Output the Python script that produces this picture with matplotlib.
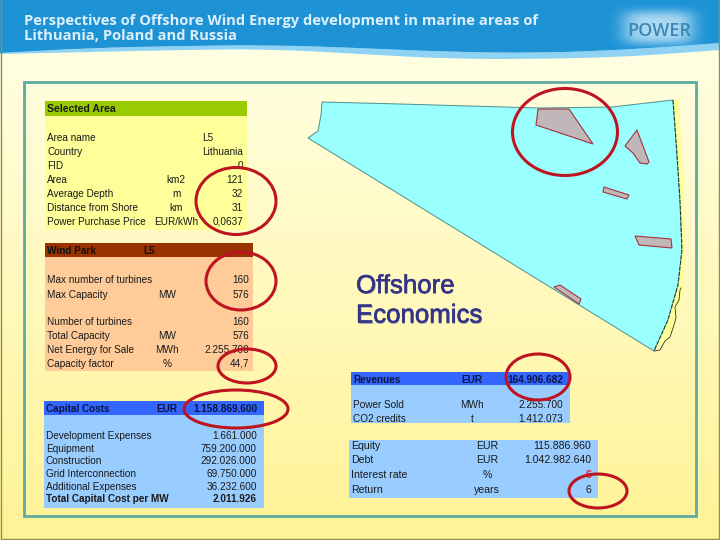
import numpy as np
import matplotlib
matplotlib.use('Agg')
import matplotlib.pyplot as plt
from matplotlib.patches import Rectangle, Ellipse, Polygon, PathPatch
from matplotlib.path import Path
import matplotlib.patheffects as pe

TITLE = ["Perspectives of Offshore Wind Energy development in marine areas of",
         "Lithuania, Poland and Russia"]
MAP_LABEL = ["Offshore", "Economics"]

selected_header = "Selected Area"
selected_top = [("Area name", "L5"), ("Country", "Lithuania")]
selected_rows = [("FID", "", "0"),
                 ("Area", "km2", "121"), ("Average Depth", "m", "32"),
                 ("Distance from Shore", "km", "31"),
                 ("Power Purchase Price", "EUR/kWh", "0,0637")]
selected_top_y = [137, 151]
selected_y = [165, 179, 193, 207, 221]

park_header = ["Wind Park", "L5"]
park_rows = [("Max number of turbines", "", "160"), ("Max Capacity", "MW", "576"),
             ("Number of turbines", "", "160"), ("Total Capacity", "MW", "576"),
             ("Net Energy for Sale", "MWh", "2.255.700"), ("Capacity factor", "%", "44,7")]
park_y = [279, 294, 321, 335, 349, 363]

capital_header = ["Capital Costs", "EUR", "1.158.869.600"]
capital_rows = [("Development Expenses", "", "1.661.000"), ("Equipment", "", "759.200.000"),
                ("Construction", "", "292.026.000"), ("Grid Interconnection", "", "69.750.000"),
                ("Additional Expenses", "", "36.232.600")]
capital_y = [435, 448, 460, 473, 486]
capital_total = ("Total Capital Cost per MW", "2.011.926")

revenue_header = ["Revenues", "EUR", "164.906.682"]
revenue_rows = [("Power Sold", "MWh", "2.255.700"), ("CO2 credits", "t", "1.412.073")]
revenue_y = [404, 418]

finance_rows = [("Equity", "EUR", "115.886.960"), ("Debt", "EUR", "1.042.982.640"),
                ("Return", "years", "6")]
finance_y = [445, 459, 489]
interest_row = ("Interest rate", "%", "6")
interest_y = 474

sea_outline = [(322, 102), (400, 104), (470, 106), (540, 108), (612, 107), (673, 100),
               (676, 140), (680, 200), (682, 250), (678, 285), (668, 320), (654, 351),
               (308, 138), (318, 131), (321, 115)]
coast_strip = [(673, 100), (679, 98), (681, 140), (684, 200), (685, 250), (683, 290), (676, 318),
               (670, 335), (654, 351), (668, 320), (678, 285), (682, 250), (680, 200), (676, 140)]
zones = [[(538, 109), (569, 109), (593, 144), (536, 125)],
         [(637, 130), (649, 162), (647, 164), (640, 163), (633, 153), (625, 146)],
         [(604, 187), (629, 195), (627, 199), (603, 192)],
         [(635, 236), (671, 239), (672, 248), (639, 245)],
         [(554, 287), (560, 285), (581, 299), (579, 304)]]
coast_x = [654, 660, 665, 670, 673, 676, 675, 679, 680, 681]
coast_y = [351, 350, 341, 337, 328, 318, 307, 300, 290, 288]
rings = [(236, 201, 80, 67), (241, 281, 70, 58), (247, 366, 58, 34), (236, 409, 104, 38),
         (538, 377, 64, 46), (598, 491, 58, 34), (565, 132, 105, 87)]

wave_top = [(0, 53), (90, 48), (180, 46), (270, 45), (360, 48), (450, 52), (540, 53), (620, 50), (680, 46), (720, 43)]
wave_low = [(720, 50), (680, 53), (620, 57), (540, 59), (450, 59), (360, 54), (270, 49), (180, 50), (90, 52), (0, 54)]

TXT = ['Liberation Sans']
fig = plt.figure(figsize=(7.2, 5.4), dpi=100)
ax = fig.add_axes([0, 0, 1, 1])


def gradient(x0, x1, y0, y1, top, bottom, z):
    a = np.array(matplotlib.colors.to_rgb(top))
    b = np.array(matplotlib.colors.to_rgb(bottom))
    g = np.linspace(0, 1, 256)[:, None, None]
    ax.imshow(a * (1 - g) + b * g, extent=(x0, x1, y1, y0), aspect='auto', zorder=z, interpolation='bilinear')


def smooth(points):
    verts, codes = [points[0]], [Path.MOVETO]
    for i in range(1, len(points) - 1):
        mid = ((points[i][0] + points[i + 1][0]) / 2, (points[i][1] + points[i + 1][1]) / 2)
        verts += [points[i], mid]
        codes += [Path.CURVE3, Path.CURVE3]
    verts.append(points[-1])
    codes.append(Path.LINETO)
    return verts, codes


gradient(0, 720, 50, 540, '#FFFFE2', '#FFF396', 0)

# header
vr, cr = smooth(wave_top[::-1])
p = Path([(0, 0), (720, 0)] + vr + [(0, 0)], [Path.MOVETO, Path.LINETO, Path.LINETO] + cr[1:] + [Path.LINETO])
vb, cb = smooth(wave_low)
vt, ct = smooth(wave_top)
ax.add_patch(PathPatch(Path(vt + vb, ct + [Path.LINETO] + cb[1:]), fc='#8ED2F4', ec='none', zorder=1))
header = PathPatch(p, fc='#1D93D6', ec='none', zorder=2)
ax.add_patch(header)

# logo glow
yy, xx = np.mgrid[0:70, 0:120]
glow = np.exp(-(((xx - 58) / 36.0) ** 4 + ((yy - 27) / 17.0) ** 4))
rgba = np.zeros((70, 120, 4))
rgba[..., :3] = matplotlib.colors.to_rgb('#BFE3F6')
rgba[..., 3] = glow * 0.9
logo = ax.imshow(rgba, extent=(600, 720, 70, 0), aspect='auto', zorder=3)
logo.set_clip_path(header)
ax.text(659, 31, "POWER", family='Open Sans', weight='semibold', fontsize=13, color='#3C86B6',
        ha='center', va='center', zorder=4)

for i, line in enumerate(TITLE):
    ax.text(24, 19 + 15 * i, line, family='Open Sans', weight='bold', fontsize=10.6, color='#DCEFF9',
            va='center_baseline', ha='left', zorder=5)

# frame and outer rule
ax.add_patch(Rectangle((24, 82), 672, 434, fc='none', ec='#5FAAA0', lw=2, zorder=6))
ax.add_patch(Rectangle((0.8, -5), 718, 543.5, fc='none', ec='#8F8F55', lw=1, zorder=6))


def table(x0, x1, head_top, head_bot, body_bot, head_col, body_col):
    ax.add_patch(Rectangle((x0, head_bot), x1 - x0, body_bot - head_bot, fc=body_col, ec='none', zorder=7))
    if head_col:
        ax.add_patch(Rectangle((x0, head_top), x1 - x0, head_bot - head_top, fc=head_col, ec='none', zorder=7))


def t(x, y, s, ha='left', size=7.2, bold=False, color='#1a1a1a', z=9):
    ax.text(x, y, s, ha=ha, va='center_baseline', family=TXT, fontsize=size,
            weight='bold' if bold else 'normal', color=color, zorder=z)


def rows(data, ys, lx, ux, vx, size=7.2):
    for (label, unit, val), y in zip(data, ys):
        t(lx, y, label, size=size)
        if unit:
            t(ux, y, unit, ha='center', size=size)
        if val:
            t(vx, y, val, ha='right', size=size)


table(45, 247, 101, 116, 230, '#99CC00', '#FFFF99')
t(47, 108, selected_header, bold=True, size=7.6)
for (lab, val), y in zip(selected_top, selected_top_y):
    t(47, y, lab)
    t(202, y, val)
rows(selected_rows, selected_y, 47, 176, 243)

table(45, 253, 243, 257, 371, '#993300', '#FFCC99')
t(47, 250, park_header[0], bold=True, color='#111111')
t(143, 250, park_header[1], bold=True, color='#111111')
rows(park_rows, park_y, 47, 167, 249)

table(44, 264, 401, 415, 508, '#3366FF', '#99CCFF')
t(46, 408, capital_header[0], bold=True, color='#0a1440')
t(167, 408, capital_header[1], ha='center', bold=True, color='#0a1440')
t(257, 408, capital_header[2], ha='right', bold=True, color='#0a1440')
rows(capital_rows, capital_y, 46, 167, 257)
t(46, 498, capital_total[0], bold=True)
t(257, 498, capital_total[1], ha='right', bold=True)

table(351, 570, 372, 385, 423, '#3366FF', '#99CCFF')
t(353, 379, revenue_header[0], bold=True, color='#0a1440')
t(472, 379, revenue_header[1], ha='center', bold=True, color='#0a1440')
t(563, 379, revenue_header[2], ha='right', bold=True, color='#0a1440')
rows(revenue_rows, revenue_y, 353, 472, 563)

table(349, 598, 440, 440, 498, None, '#99CCFF')
rows(finance_rows, finance_y, 351, 487, 591, size=7.6)
t(351, interest_y, interest_row[0], size=7.6)
t(487, interest_y, interest_row[1], ha='center', size=7.6)
t(591, interest_y, interest_row[2], ha='right', size=7.6, color='#EE1133', bold=True)

# map
ax.add_patch(Polygon(sea_outline, closed=True, fc='#99FFFF', ec='#4E8F8F', lw=0.7, zorder=7))
ax.add_patch(Polygon(coast_strip, closed=True, fc='#FFFF99', ec='none', zorder=7))
ax.plot([q[0] for q in sea_outline[5:12]], [q[1] for q in sea_outline[5:12]], color='#1c3a3a',
        lw=0.8, ls=(0, (4, 1)), zorder=8)
ax.plot(coast_x, coast_y, color='#333322', lw=0.6, zorder=8)
for zone in zones:
    ax.add_patch(Polygon(zone, closed=True, fc='#C0B8B8', ec='#A83040', lw=0.8, zorder=8))

for i, line in enumerate(MAP_LABEL):
    y = 286 + 29.5 * i
    ax.text(357, y + 1, line, family=TXT, fontsize=18.6, color='#a8a8b4', va='center', ha='left', zorder=9)
    ax.text(356, y, line, family=TXT, fontsize=18.6, color='#333388', va='center', ha='left', zorder=9,
            path_effects=[pe.withStroke(linewidth=0.4, foreground='#333388')])

for cx, cy, w, h in rings:
    ax.add_patch(Ellipse((cx, cy), w, h, fc='none', ec='#BE1420', lw=2.2, zorder=10))

ax.set_xlim(0, 720)
ax.set_ylim(540, 0)
ax.axis('off')
fig.savefig('out.png', dpi=100)
